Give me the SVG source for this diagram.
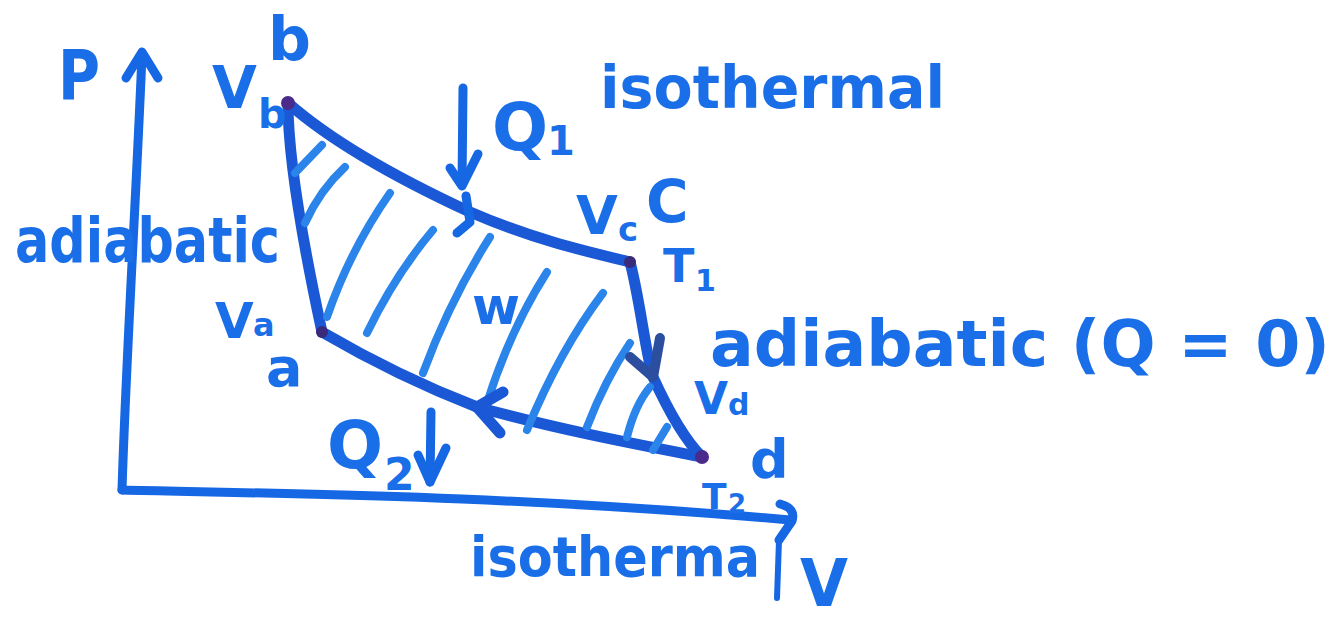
<svg xmlns="http://www.w3.org/2000/svg" width="1338" height="623" viewBox="0 0 1338 623">
<style>
.ink{fill:none;stroke:#1667e3;stroke-width:9;stroke-linecap:round;stroke-linejoin:round}
.cyc{fill:none;stroke:#1a58d6;stroke-width:11;stroke-linecap:round;stroke-linejoin:round}
.hat{fill:none;stroke:#2b84ea;stroke-width:8;stroke-linecap:round}
.dark{fill:none;stroke:#2b4f9e;stroke-width:10;stroke-linecap:round;stroke-linejoin:round}
.t{fill:#1a6fe8;font-family:"DejaVu Sans","Liberation Sans",sans-serif;font-weight:bold}
</style>
<rect width="1338" height="623" fill="#ffffff"/>
<g id="axes">
<path class="ink" d="M122,490 C126,360 136,200 142,55"/>
<path class="ink" d="M126,78 L142,52 L158,78"/>
<path class="ink" d="M122,490 C300,494 520,496 790,520"/>
<path class="ink" d="M780,504 Q796,508 792,521 L779,540"/>
<path class="ink" style="stroke-width:6" d="M779,540 L777,598"/>
</g>
<g id="cycle">
<path class="cyc" d="M288,103 C330,140 390,175 470,212 C530,238 580,250 630,262"/>
<path class="cyc" d="M630,262 C640,300 645,350 653,377 C668,410 685,440 702,457"/>
<path class="cyc" d="M322,332 C370,360 420,385 477,407 C560,430 640,445 702,457"/>
<path class="cyc" d="M288,103 C288,150 300,230 322,332"/>
<circle cx="288" cy="103" r="7" fill="#4a2a8a"/>
<circle cx="630" cy="262" r="6" fill="#3a2a7a"/>
<circle cx="322" cy="332" r="6" fill="#3a2a7a"/>
<circle cx="702" cy="457" r="7" fill="#4a2a8a"/>
</g>
<g id="hatching">
<path class="hat" d="M295,173 L322,145"/>
<path class="hat" d="M305,223 Q320,190 345,167"/>
<path class="hat" d="M327,317 Q350,250 390,193"/>
<path class="hat" d="M367,333 Q395,275 433,230"/>
<path class="hat" d="M423,373 Q450,300 490,237"/>
<path class="hat" d="M487,403 Q510,330 547,272"/>
<path class="hat" d="M527,430 Q560,350 603,293"/>
<path class="hat" d="M587,427 Q605,380 630,343"/>
<path class="hat" d="M627,437 Q635,405 650,387"/>
<path class="hat" d="M653,450 L667,427"/>
</g>
<g id="connectors">
<path class="ink" d="M463,88 L462,185"/>
<path class="ink" d="M450,168 L462,186 L478,154"/>
<path class="ink" d="M466,196 L470,222 L457,233"/>
<path class="cyc" d="M503,392 L477,407 L500,433"/>
<path class="dark" d="M660,338 L653,377 L630,357"/>
<path class="ink" d="M431,412 L430,482"/>
<path class="ink" d="M418,455 L430,482 L446,448"/>
</g>
<g id="labels">
<text class="t" x="58" y="100" font-size="70" textLength="42" lengthAdjust="spacingAndGlyphs">P</text>
<text class="t" x="268" y="60" font-size="60">b</text>
<g id="Vb"><text class="t" x="212" y="108" font-size="58">V</text><text class="t" x="258" y="128" font-size="40">b</text></g>
<text class="t" x="600" y="108" font-size="58" textLength="345" lengthAdjust="spacingAndGlyphs">isothermal</text>
<g id="Q1"><text class="t" x="492" y="150" font-size="66">Q</text><text class="t" x="547" y="155" font-size="40">1</text></g>
<text class="t" x="15" y="262" font-size="62" textLength="265" lengthAdjust="spacingAndGlyphs">adiabatic</text>
<g id="Vc"><text class="t" x="576" y="234" font-size="54">V</text><text class="t" x="618" y="241" font-size="34">c</text></g>
<text class="t" x="646" y="222" font-size="58">C</text>
<g id="T1"><text class="t" x="663" y="282" font-size="46">T</text><text class="t" x="695" y="291" font-size="30">1</text></g>
<text class="t" x="472" y="324" font-size="52">w</text>
<text class="t" x="710" y="366" font-size="64" textLength="620" lengthAdjust="spacingAndGlyphs">adiabatic (Q = 0)</text>
<g id="Va"><text class="t" x="215" y="338" font-size="50">V</text><text class="t" x="253" y="336" font-size="32">a</text></g>
<text class="t" x="266" y="386" font-size="54">a</text>
<g id="Vd"><text class="t" x="694" y="414" font-size="44">V</text><text class="t" x="728" y="415" font-size="30">d</text></g>
<text class="t" x="750" y="478" font-size="54">d</text>
<g id="T2"><text class="t" x="702" y="509" font-size="36">T</text><text class="t" x="728" y="513" font-size="26">2</text></g>
<g id="Q2"><text class="t" x="327" y="468" font-size="66">Q</text><text class="t" x="384" y="490" font-size="44">2</text></g>
<text class="t" x="470" y="576" font-size="56" textLength="290" lengthAdjust="spacingAndGlyphs">isotherma</text>
<text class="t" x="800" y="606" font-size="66" textLength="48" lengthAdjust="spacingAndGlyphs">V</text>
</g>
</svg>
